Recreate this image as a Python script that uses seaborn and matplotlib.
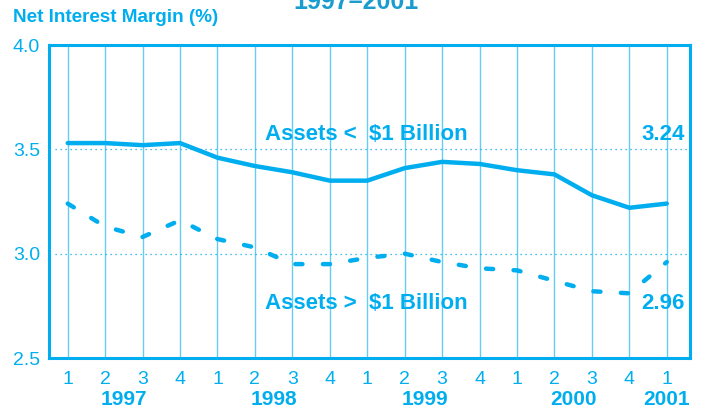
import numpy as np
import pandas as pd
import matplotlib
matplotlib.use("Agg")
import matplotlib.pyplot as plt
import matplotlib.transforms as mtransforms
import seaborn as sns

# data (quarterly, 1997 Q1 .. 2001 Q1)
quarters = ["1", "2", "3", "4"] * 4 + ["1"]
years = ["1997", "1998", "1999", "2000", "2001"]
small_banks = [3.53, 3.53, 3.52, 3.53, 3.46, 3.42, 3.39, 3.35, 3.35,
               3.41, 3.44, 3.43, 3.40, 3.38, 3.28, 3.22, 3.24]
large_banks = [3.24, 3.13, 3.08, 3.16, 3.07, 3.03, 2.95, 2.95, 2.98,
               3.00, 2.96, 2.93, 2.92, 2.87, 2.82, 2.81, 2.96]

df = pd.DataFrame({"pos": np.arange(len(quarters)),
                   "small": small_banks, "large": large_banks})

blue = "#00AEEF"
grid_blue = "#66CCF2"
title_blue = "#1A9CCF"

sns.set_style("white")
plt.rcParams["font.family"] = ["Liberation Sans", "DejaVu Sans"]

fig = plt.figure(figsize=(7.03, 4.08), dpi=100)
ax = fig.add_axes([0.0697, 0.1225, 0.9118, 0.7672])

# vertical quarter lines and dotted horizontal guides
for p in df["pos"]:
    ax.axvline(p, color=grid_blue, lw=1.0, zorder=1)
for yv in [3.0, 3.5]:
    ax.axhline(yv, xmin=0.01, color=blue, lw=0.9, ls=(0, (1, 3)), zorder=1)

sns.lineplot(data=df, x="pos", y="small", ax=ax, color=blue, lw=3.2,
             solid_capstyle="round", zorder=3)
sns.lineplot(data=df, x="pos", y="large", ax=ax, color=blue, lw=3.2,
             dashes=False, zorder=3)
ax.lines[-1].set_dashes((1.6, 4.6))
ax.lines[-1].set_dash_capstyle("round")

ax.set_xlim(-0.5, 16.62)
ax.set_ylim(2.5, 4.0)
ax.set_yticks([2.5, 3.0, 3.5, 4.0])
ax.set_yticklabels(["2.5", "3.0", "3.5", "4.0"])
ax.set_xticks(df["pos"])
ax.set_xticklabels(quarters)
ax.tick_params(axis="both", length=0, colors=blue, labelsize=14)
ax.tick_params(axis="y", pad=6.5)
ax.tick_params(axis="x", pad=9)
ax.set_xlabel("")
ax.set_ylabel("")

for s in ax.spines.values():
    s.set_color(blue)
    s.set_linewidth(2.2)
    s.set_visible(True)

# year labels under the quarter numbers
trans = mtransforms.blended_transform_factory(ax.transData, ax.transAxes)
year_pos = [1.5, 5.5, 9.55, 13.5, 16.0]
for yr, xp in zip(years, year_pos):
    ax.text(xp, -0.132, yr, transform=trans, ha="center", va="center",
            fontsize=15, fontweight="bold", color=blue)

ax.text(5.27, 3.569, "Assets <  $1 Billion", ha="left", va="center",
        fontsize=16, fontweight="bold", color=blue)
ax.text(5.27, 2.759, "Assets >  $1 Billion", ha="left", va="center",
        fontsize=16, fontweight="bold", color=blue)
ax.text(16.48, 3.569, "3.24", ha="right", va="center",
        fontsize=16, fontweight="bold", color=blue)
ax.text(16.48, 2.759, "2.96", ha="right", va="center",
        fontsize=16, fontweight="bold", color=blue)

fig.text(13 / 703, 1 - 18 / 408, "Net Interest Margin (%)", ha="left",
         va="center", fontsize=13.6, fontweight="bold", color=blue)
fig.text(356 / 703, 1 - 2 / 408, "1997\u20132001", ha="center", va="center",
         fontsize=18, fontweight="bold", color=title_blue)

fig.savefig("out.png", dpi=100)
